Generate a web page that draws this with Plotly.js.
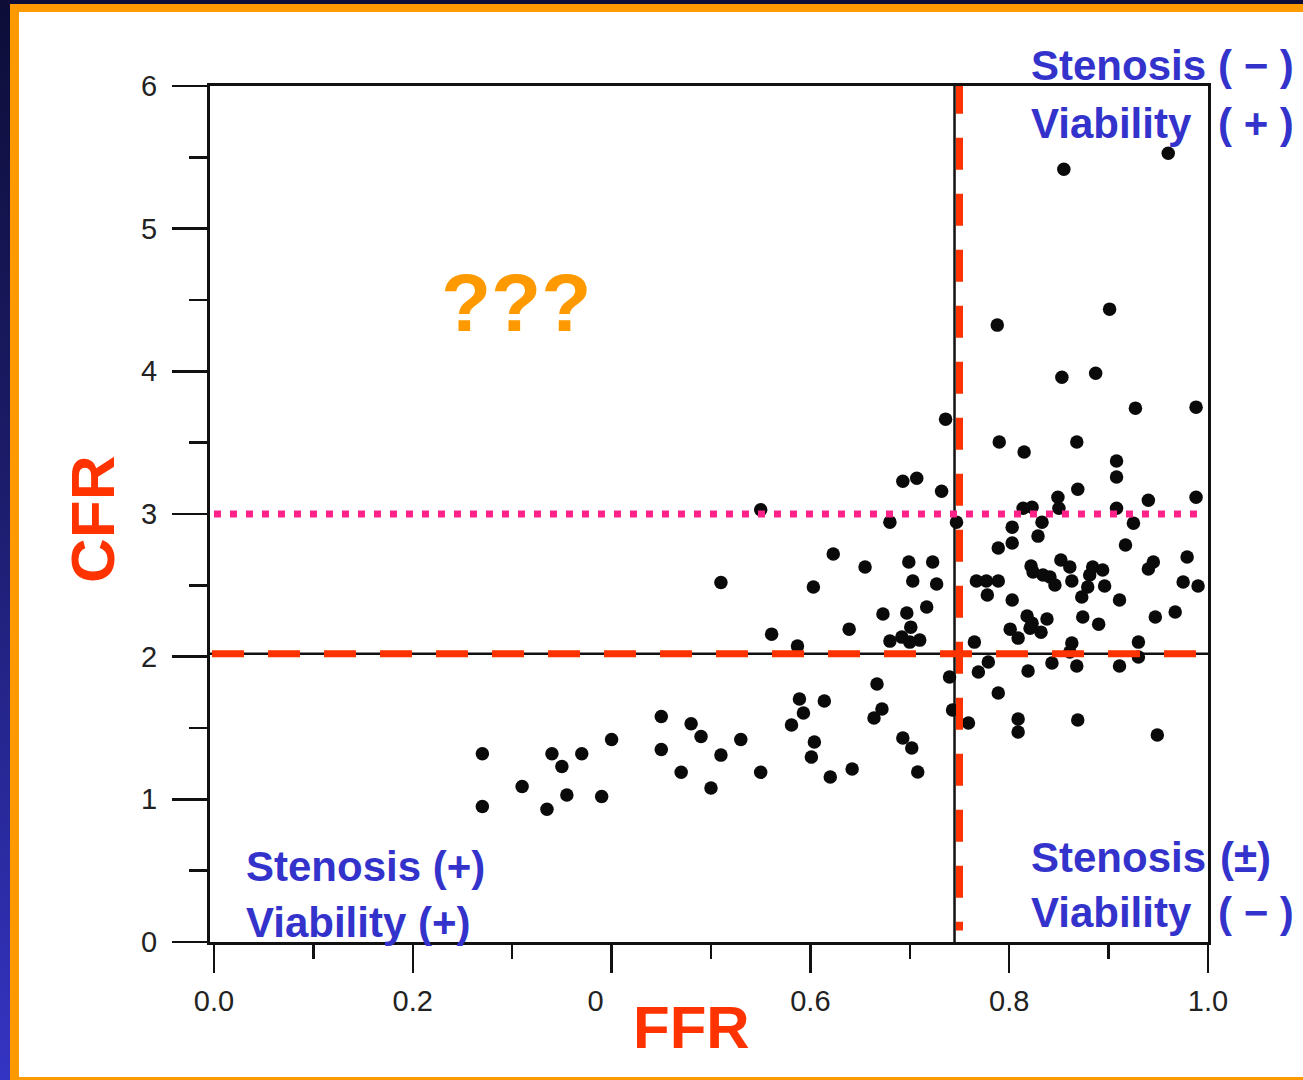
<!DOCTYPE html>
<html>
<head>
<meta charset="utf-8">
<script src="https://cdn.plot.ly/plotly-3.0.1.min.js"></script>
<style>
  html, body { margin: 0; padding: 0; }
  body { width: 1303px; height: 1080px; overflow: hidden; position: relative;
         background: linear-gradient(180deg, #0d0d38 0%, #1c1c6c 45%, #3434c4 100%); }
  #frame { position: absolute; left: 10px; top: 4px; width: 1293px; height: 1076px; background: #FF9900; }
  #panel { position: absolute; left: 19px; top: 12px; width: 1284px; height: 1065px; background: #ffffff; }
  #chart { position: absolute; left: 0; top: 0; width: 1303px; height: 1080px; }
</style>
</head>
<body>
<div id="frame"></div>
<div id="panel"></div>
<div id="chart"></div>
<script>
// ---- data (FFR vs CFR) ----
const ffr = [
  0.27, 0.27, 0.31, 0.34, 0.35, 0.335, 0.355, 0.37, 0.39, 0.40,
  0.45, 0.45, 0.47, 0.48, 0.49, 0.51, 0.50, 0.53, 0.55, 0.51, 0.55,
  0.693, 0.707, 0.732, 0.736, 0.680, 0.747, 0.623, 0.655, 0.699, 0.723,
  0.603, 0.703, 0.727, 0.673, 0.697, 0.717, 0.561, 0.639, 0.701, 0.587,
  0.680, 0.692, 0.700, 0.710, 0.667, 0.740, 0.589, 0.614, 0.593, 0.672,
  0.664, 0.743, 0.581, 0.604, 0.601, 0.620, 0.642, 0.693, 0.702, 0.708,
  0.803, 0.833, 0.925, 0.829, 0.803, 0.789, 0.917, 0.979, 0.945, 0.940,
  0.852, 0.861, 0.822, 0.824, 0.834, 0.841, 0.846, 0.884, 0.894, 0.881,
  0.879, 0.873, 0.896, 0.863, 0.767, 0.777, 0.789, 0.778, 0.803, 0.911,
  0.975, 0.990, 0.967, 0.947, 0.874, 0.890, 0.818, 0.823, 0.838, 0.821,
  0.832, 0.801, 0.809, 0.765, 0.863, 0.930, 0.930, 0.861, 0.779, 0.769,
  0.819, 0.843, 0.868, 0.911, 0.789, 0.759, 0.809, 0.809, 0.869, 0.949,
  0.901, 0.788, 0.853, 0.887, 0.927, 0.988, 0.790, 0.815, 0.868, 0.908,
  0.908, 0.869, 0.849, 0.940, 0.988, 0.814, 0.823, 0.850, 0.908, 0.855,
  0.960
];
const cfr = [
  1.32, 0.95, 1.09, 1.32, 1.23, 0.93, 1.03, 1.32, 1.02, 1.42,
  1.58, 1.35, 1.19, 1.53, 1.44, 1.31, 1.08, 1.42, 1.19, 2.52, 3.03,
  3.23, 3.25, 3.16, 3.665, 2.943, 2.943, 2.719, 2.628, 2.663, 2.663,
  2.488, 2.530, 2.509, 2.299, 2.306, 2.348, 2.158, 2.193, 2.207, 2.074,
  2.109, 2.137, 2.102, 2.116, 1.808, 1.857, 1.703, 1.689, 1.605, 1.633,
  1.570, 1.626, 1.521, 1.402, 1.296, 1.156, 1.212, 1.430, 1.360, 1.191,
  2.908, 2.943, 2.936, 2.845, 2.796, 2.761, 2.782, 2.698, 2.663, 2.614,
  2.677, 2.628, 2.635, 2.593, 2.572, 2.558, 2.502, 2.628, 2.607, 2.572,
  2.488, 2.418, 2.495, 2.530, 2.530, 2.530, 2.530, 2.432, 2.397, 2.397,
  2.523, 2.495, 2.313, 2.278, 2.278, 2.228, 2.285, 2.235, 2.264, 2.200,
  2.172, 2.193, 2.130, 2.102, 2.095, 2.102, 1.997, 2.032, 1.962, 1.892,
  1.899, 1.955, 1.934, 1.934, 1.745, 1.535, 1.563, 1.472, 1.556, 1.451,
  4.436, 4.324, 3.959, 3.987, 3.742, 3.749, 3.504, 3.434, 3.504, 3.371,
  3.259, 3.174, 3.118, 3.097, 3.118, 3.041, 3.048, 3.041, 3.041, 5.417,
  5.529
];

// thresholds drawn on the chart
const ffrCut = [0.745, 0.75];      // black solid line, red dashed line
const cfrCut = [2.02, 2.02];       // black solid line, red dashed line
const cfrHigh = [3.0];             // pink dotted line

// axis ticks
const xTickVals = [0, 0.2, 0.4, 0.6, 0.8, 1.0];
const xTickText = ["0.0", "0.2", "0\u00a0\u00a0\u00a0\u00a0", "0.6", "0.8", "1.0"];
const yTickVals = [0, 1, 2, 3, 4, 5, 6];
const yTickText = ["0", "1", "2", "3", "4", "5", "6"];

// quadrant labels
const qText = ["Stenosis", "( \u2212 )", "Viability", "( + )",
               "Stenosis", "(\u00b1)", "Viability", "( \u2212 )",
               "Stenosis (+)", "Viability (+)"];

const FONT = "Liberation Sans, Arial, Helvetica, sans-serif";
const BLUE = "#3333CC", RED = "#FF3300", PINK = "#FF2288", ORANGE = "#FF9900";

const trace = {
  type: "scatter", mode: "markers", x: ffr, y: cfr,
  marker: { size: 13.5, color: "#0a0a0a" },
  hoverinfo: "x+y", showlegend: false, cliponaxis: false
};

function px2xp(px) { return (px - 210) / 998; }
function py2yp(py) { return (942 - py) / 856; }

function lab(text, px, py, opts) {
  return Object.assign({
    text: "<b>" + text + "</b>", xref: "paper", yref: "paper",
    x: px2xp(px), y: py2yp(py), xanchor: "left", yanchor: "middle",
    showarrow: false, font: { family: FONT, size: 42, color: BLUE }
  }, opts || {});
}

const annotations = [
  lab(qText[0], 1029, 66), lab(qText[1], 1216, 66),
  lab(qText[2], 1029, 123), lab(qText[3], 1216, 123),
  lab(qText[4], 1029, 857), lab(qText[5], 1218, 857),
  lab(qText[6], 1029, 912), lab(qText[7], 1216, 912),
  lab(qText[8], 244, 866), lab(qText[9], 244, 922),
  lab("???", 516, 302, { xanchor: "center", font: { family: FONT, size: 82, color: ORANGE } }),
  lab("FFR", 691, 1027, { xanchor: "center", font: { family: FONT, size: 60, color: RED } }),
  lab("CFR", 92, 520, { xanchor: "center", textangle: -90, font: { family: FONT, size: 62, color: RED } })
];

const shapes = [
  { type: "line", xref: "x", yref: "y", x0: ffrCut[0], x1: ffrCut[0], y0: 0, y1: 6,
    line: { color: "#111", width: 2.5 }, layer: "below" },
  { type: "line", xref: "x", yref: "y", x0: -0.004, x1: 1.0, y0: cfrCut[0], y1: cfrCut[0],
    line: { color: "#111", width: 2.5 }, layer: "below" },
  { type: "line", xref: "x", yref: "y", x0: 0.0, x1: 0.99, y0: cfrHigh[0], y1: cfrHigh[0],
    line: { color: PINK, width: 7, dash: "7px,9px" } },
  { type: "line", xref: "x", yref: "y", x0: -0.002, x1: 0.99, y0: cfrCut[1], y1: cfrCut[1],
    line: { color: RED, width: 7, dash: "32px,24px" } },
  { type: "line", xref: "x", yref: "y", x0: ffrCut[1], x1: ffrCut[1], y0: 6.03, y1: 0.08,
    line: { color: RED, width: 7, dash: "32px,24px" } }
];

const layout = {
  width: 1303, height: 1080,
  margin: { l: 210, r: 95, t: 86, b: 138 },
  paper_bgcolor: "rgba(0,0,0,0)", plot_bgcolor: "rgba(0,0,0,0)",
  showlegend: false,
  font: { family: FONT },
  xaxis: {
    range: [-0.004, 1.0], showgrid: false, zeroline: false,
    showline: true, mirror: true, linecolor: "#111", linewidth: 3,
    tickmode: "array", tickvals: xTickVals, ticktext: xTickText,
    ticks: "outside", ticklen: 28, tickwidth: 2.5, tickcolor: "#111",
    minor: { dtick: 0.1, ticks: "outside", ticklen: 14, tickwidth: 2.5, tickcolor: "#111" },
    tickfont: { family: FONT, size: 29, color: "#222" },
    ticklabelstandoff: 3
  },
  yaxis: {
    range: [0, 6], showgrid: false, zeroline: false,
    showline: true, mirror: true, linecolor: "#111", linewidth: 3,
    tickmode: "array", tickvals: yTickVals, ticktext: yTickText,
    ticks: "outside", ticklen: 35, tickwidth: 2.5, tickcolor: "#111",
    minor: { dtick: 0.5, ticks: "outside", ticklen: 18, tickwidth: 2.5, tickcolor: "#111" },
    tickfont: { family: FONT, size: 29, color: "#222" },
    ticklabelstandoff: 9
  },
  shapes: shapes,
  annotations: annotations
};

Plotly.newPlot("chart", [trace], layout, { displayModeBar: false, staticPlot: true });
</script>
</body>
</html>
